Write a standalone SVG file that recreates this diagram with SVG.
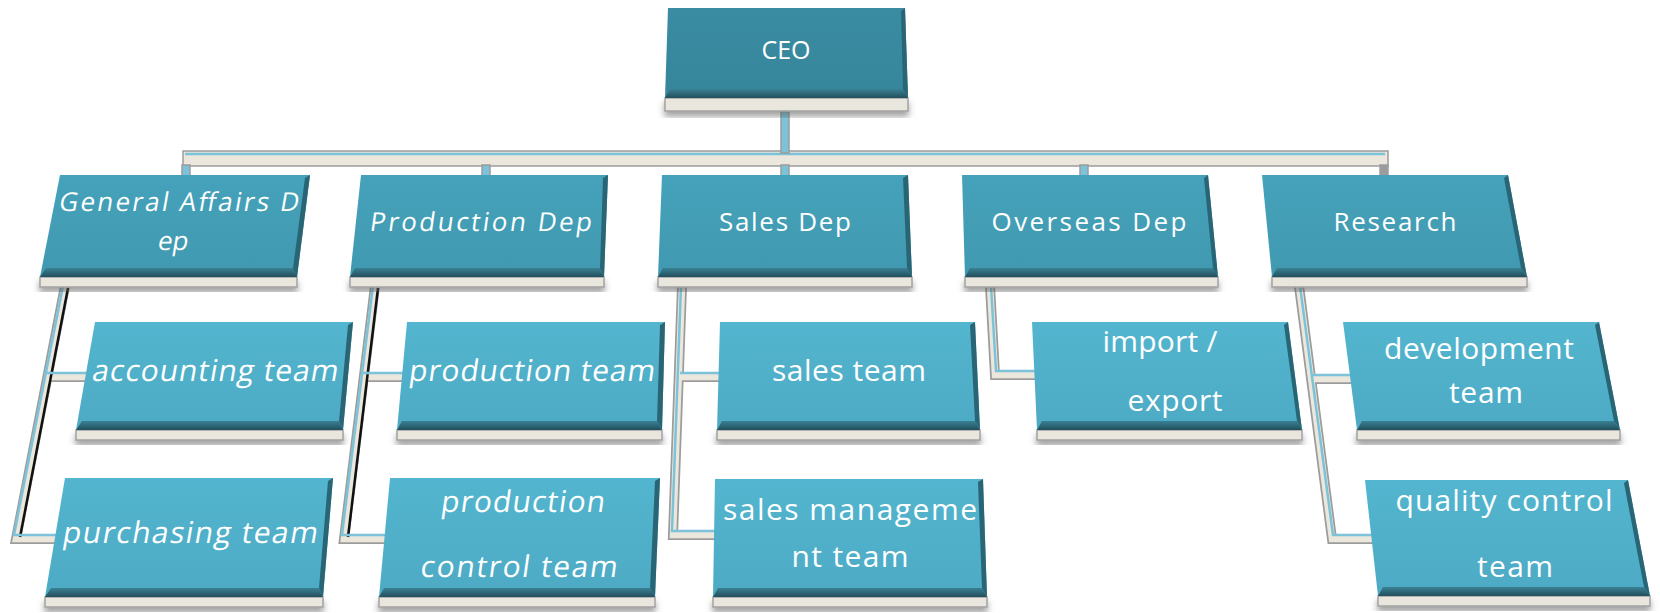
<svg xmlns="http://www.w3.org/2000/svg" width="1660" height="613" viewBox="0 0 1660 613">
<defs>
<filter id="sh" x="-10%" y="-30%" width="120%" height="180%">
<feDropShadow dx="0" dy="5" stdDeviation="3" flood-color="#555" flood-opacity="0.55"/>
</filter>
<linearGradient id="g0" x1="0" y1="0" x2="0" y2="1"><stop offset="0" stop-color="#3a8ca2"/><stop offset="1" stop-color="#36869b"/></linearGradient>
<linearGradient id="g1" x1="0" y1="0" x2="0" y2="1"><stop offset="0" stop-color="#45a2ba"/><stop offset="1" stop-color="#4099b0"/></linearGradient>
<linearGradient id="g2" x1="0" y1="0" x2="0" y2="1"><stop offset="0" stop-color="#53b5cf"/><stop offset="1" stop-color="#4daac4"/></linearGradient>
<linearGradient id="bev" x1="0" y1="0" x2="0" y2="1"><stop offset="0" stop-color="#3a8194"/><stop offset="1" stop-color="#234f5c"/></linearGradient>
</defs>
<style>
.slab{fill:#e9e6dd;stroke:#a3a3a3;stroke-width:1.5;filter:url(#sh)}
.f0{fill:url(#g0)}.f1{fill:url(#g1)}.f2{fill:url(#g2)}
.bb{fill:url(#bev)}
.br{fill:#2a6575}
text{fill:#fff;font-family:"Open Sans","Noto Sans",sans-serif;text-anchor:middle}
.t0{font-size:25px}.t1{font-size:26px}.t2{font-size:30px}
.co{fill:none;stroke:#9c9c9c;stroke-width:10;stroke-linejoin:miter}
.ci{fill:none;stroke:#ebe7dd;stroke-width:6.5;stroke-linejoin:miter}
.cb{fill:none;stroke:#7cc3d9;stroke-width:2.5;stroke-linejoin:miter}
.cd{fill:none;stroke:#111;stroke-width:2.5}
</style>

<g id="connectors">
  <rect x="183" y="151" width="1205" height="15" fill="#ebe7dd" stroke="#9c9c9c" stroke-width="1.5"/>
  <line x1="185" y1="154" x2="1385" y2="154" stroke="#7cc3d9" stroke-width="2.5"/>
  <rect x="781" y="110" width="8" height="43" fill="#7cc3d9" stroke="#9c9c9c" stroke-width="1.5"/>
  <rect x="182" y="165" width="8" height="11" fill="#7cc3d9" stroke="#9c9c9c" stroke-width="1.5"/>
  <rect x="482" y="165" width="8" height="11" fill="#7cc3d9" stroke="#9c9c9c" stroke-width="1.5"/>
  <rect x="781" y="165" width="8" height="11" fill="#7cc3d9" stroke="#9c9c9c" stroke-width="1.5"/>
  <rect x="1080" y="165" width="8" height="11" fill="#7cc3d9" stroke="#9c9c9c" stroke-width="1.5"/>
  <rect x="1380" y="165" width="8" height="11" fill="#9c9c9c" stroke="#9c9c9c" stroke-width="1.5"/>
  <path class="co" d="M65,286 L16,539 L62,539 M46,377 L90,377"/>
  <path class="ci" d="M65,286 L16,539 L62,539 M46,377 L90,377"/>
  <path class="cd" d="M68,288 L20,537"/>
  <path class="cb" d="M63,286 L14,535 L62,535 M44,373 L90,373"/>
  <path class="co" d="M375,286 L344,539 L388,539 M364,377 L404,377"/>
  <path class="ci" d="M375,286 L344,539 L388,539 M364,377 L404,377"/>
  <path class="cd" d="M378,288 L348,537"/>
  <path class="cb" d="M373,286 L342,535 L388,535 M362,373 L404,373"/>
  <path class="co" d="M682,286 L673,535 L718,535 M680,377 L722,377"/>
  <path class="ci" d="M682,286 L673,535 L718,535 M680,377 L722,377"/>
  <path class="cb" d="M681,286 L672,531 L718,531 M680,373 L722,373"/>
  <path class="co" d="M990,286 L995,375 L1038,375"/>
  <path class="ci" d="M990,286 L995,375 L1038,375"/>
  <path class="cb" d="M991,286 L996,371 L1038,371"/>
  <path class="co" d="M1299,286 L1332,539 L1374,539 M1312,379 L1354,379"/>
  <path class="ci" d="M1299,286 L1332,539 L1374,539 M1312,379 L1354,379"/>
  <path class="cb" d="M1300,286 L1333,535 L1374,535 M1313,375 L1354,375"/>
</g>

<g id="ceo">
  <polygon class="slab" points="665,98 908,98 908,111 665,111"/>
  <polygon class="f0" points="668,8 905,8 908,98 665,98"/>
  <polygon class="bb" points="665,98 908,98 903,89 670,89"/>
  <polygon class="br" points="905,8 908,98 903,89 901,11"/>
  <text class="t0" x="786" y="59">CEO</text>
</g>

<g id="general-affairs">
  <polygon class="slab" points="40,277 297,277 297,287 40,287"/>
  <polygon class="f1" points="60,175 310,175 297,277 40,277"/>
  <polygon class="bb" points="40,277 297,277 293,268 46,268"/>
  <polygon class="br" points="310,175 297,277 293,268 305,178"/>
  <g transform="translate(178,211) skewX(-10)"><text class="t1" x="0" y="0" textLength="240">General Affairs D</text></g>
  <g transform="translate(172,250) skewX(-10)"><text class="t1" x="0" y="0">ep</text></g>
</g>

<g id="production-dep">
  <polygon class="slab" points="350,277 604,277 604,287 350,287"/>
  <polygon class="f1" points="361,175 608,175 604,277 350,277"/>
  <polygon class="bb" points="350,277 604,277 600,268 355,268"/>
  <polygon class="br" points="608,175 604,277 600,268 603,178"/>
  <g transform="translate(480,231) skewX(-8)"><text class="t1" x="0" y="0" textLength="222">Production Dep</text></g>
</g>

<g id="sales-dep">
  <polygon class="slab" points="658,277 912,277 912,287 658,287"/>
  <polygon class="f1" points="662,175 908,175 912,277 658,277"/>
  <polygon class="bb" points="658,277 912,277 907,268 663,268"/>
  <polygon class="br" points="908,175 912,277 907,268 903,178"/>
  <text class="t1" x="785" y="231" textLength="132">Sales Dep</text>
</g>

<g id="overseas-dep">
  <polygon class="slab" points="965,277 1218,277 1218,287 965,287"/>
  <polygon class="f1" points="962,175 1208,175 1218,277 965,277"/>
  <polygon class="bb" points="965,277 1218,277 1213,268 970,268"/>
  <polygon class="br" points="1208,175 1218,277 1213,268 1204,178"/>
  <text class="t1" x="1089" y="231" textLength="195">Overseas Dep</text>
</g>

<g id="research">
  <polygon class="slab" points="1272,277 1527,277 1527,287 1272,287"/>
  <polygon class="f1" points="1262,175 1508,175 1527,277 1272,277"/>
  <polygon class="bb" points="1272,277 1527,277 1521,268 1277,268"/>
  <polygon class="br" points="1508,175 1527,277 1521,268 1504,178"/>
  <text class="t1" x="1395" y="231" textLength="123">Research</text>
</g>

<g id="accounting-team">
  <polygon class="slab" points="76,430 343,430 343,440 76,440"/>
  <polygon class="f2" points="95,322 353,322 343,430 76,430"/>
  <polygon class="bb" points="76,430 343,430 339,421 82,421"/>
  <polygon class="br" points="353,322 343,430 339,421 348,325"/>
  <g transform="translate(214,381) skewX(-10)"><text class="t2" x="0" y="0" textLength="246">accounting team</text></g>
</g>

<g id="production-team">
  <polygon class="slab" points="397,430 662,430 662,440 397,440"/>
  <polygon class="f2" points="407,322 665,322 662,430 397,430"/>
  <polygon class="bb" points="397,430 662,430 657,421 402,421"/>
  <polygon class="br" points="665,322 662,430 657,421 660,325"/>
  <g transform="translate(531,381) skewX(-8)"><text class="t2" x="0" y="0" textLength="246">production team</text></g>
</g>

<g id="sales-team">
  <polygon class="slab" points="717,430 980,430 980,440 717,440"/>
  <polygon class="f2" points="720,322 975,322 980,430 717,430"/>
  <polygon class="bb" points="717,430 980,430 975,421 722,421"/>
  <polygon class="br" points="975,322 980,430 975,421 970,325"/>
  <text class="t2" x="849" y="381" textLength="154">sales team</text>
</g>

<g id="import-export">
  <polygon class="slab" points="1037,430 1302,430 1302,440 1037,440"/>
  <polygon class="f2" points="1032,322 1288,322 1302,430 1037,430"/>
  <polygon class="bb" points="1037,430 1302,430 1297,421 1042,421"/>
  <polygon class="br" points="1288,322 1302,430 1297,421 1284,325"/>
  <text class="t2" x="1160" y="352" textLength="115">import /</text>
  <text class="t2" x="1175" y="411" textLength="95">export</text>
</g>

<g id="development-team">
  <polygon class="slab" points="1357,430 1620,430 1620,440 1357,440"/>
  <polygon class="f2" points="1343,322 1599,322 1620,430 1357,430"/>
  <polygon class="bb" points="1357,430 1620,430 1614,421 1362,421"/>
  <polygon class="br" points="1599,322 1620,430 1614,421 1595,325"/>
  <text class="t2" x="1479" y="359" textLength="190">development</text>
  <text class="t2" x="1486" y="403" textLength="74">team</text>
</g>

<g id="purchasing-team">
  <polygon class="slab" points="45,597 323,597 323,607 45,607"/>
  <polygon class="f2" points="65,478 333,478 323,597 45,597"/>
  <polygon class="bb" points="45,597 323,597 319,588 51,588"/>
  <polygon class="br" points="333,478 323,597 319,588 328,481"/>
  <g transform="translate(189,543) skewX(-10)"><text class="t2" x="0" y="0" textLength="255">purchasing team</text></g>
</g>

<g id="production-control-team">
  <polygon class="slab" points="379,597 655,597 655,607 379,607"/>
  <polygon class="f2" points="390,478 660,478 655,597 379,597"/>
  <polygon class="bb" points="379,597 655,597 650,588 384,588"/>
  <polygon class="br" points="660,478 655,597 650,588 655,481"/>
  <g transform="translate(522,512) skewX(-8)"><text class="t2" x="0" y="0" textLength="164">production</text></g>
  <g transform="translate(518,577) skewX(-8)"><text class="t2" x="0" y="0" textLength="197">control team</text></g>
</g>

<g id="sales-management-team">
  <polygon class="slab" points="713,597 987,597 987,607 713,607"/>
  <polygon class="f2" points="715,479 983,479 987,597 713,597"/>
  <polygon class="bb" points="713,597 987,597 982,588 718,588"/>
  <polygon class="br" points="983,479 987,597 982,588 978,482"/>
  <text class="t2" x="850" y="520" textLength="254">sales manageme</text>
  <text class="t2" x="850" y="567" textLength="117">nt team</text>
</g>

<g id="quality-control-team">
  <polygon class="slab" points="1378,596 1650,596 1650,606 1378,606"/>
  <polygon class="f2" points="1365,480 1628,480 1650,596 1378,596"/>
  <polygon class="bb" points="1378,596 1650,596 1644,587 1383,587"/>
  <polygon class="br" points="1628,480 1650,596 1644,587 1624,483"/>
  <text class="t2" x="1504" y="511" textLength="217">quality control</text>
  <text class="t2" x="1515" y="577" textLength="76">team</text>
</g>
</svg>
